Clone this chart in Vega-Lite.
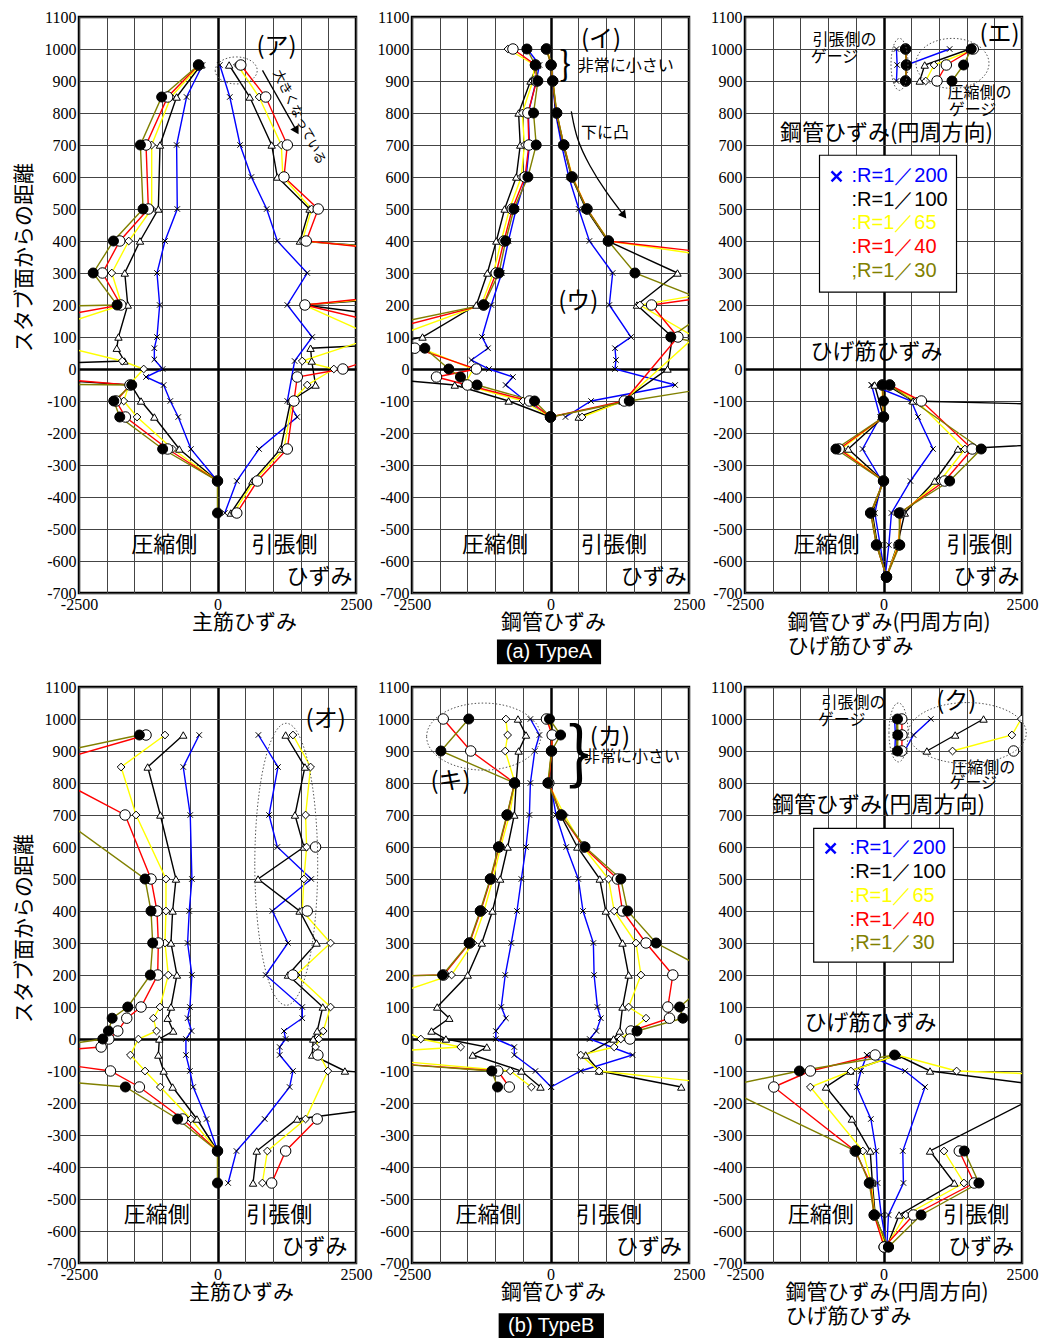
{
"$schema":"https://vega.github.io/schema/vega-lite/v6.json",
"padding":{"left":11,"top":7,"right":0,"bottom":0},
"background":"#ffffff",
"spacing":11,
"config":{
 "view":{"stroke":"#000000","strokeWidth":2.5},
 "axis":{"domain":false,"ticks":false,"grid":true,"labelFont":"Liberation Serif","labelFontSize":16,"labelColor":"#000000","labelPadding":3,"labelFlush":false,"labelOverlap":false,"labelBound":false,"titleFont":"Noto Sans CJK JP","titleFontSize":21,"titleFontWeight":"normal","titleColor":"#000000"}
},
"datasets":{
"A1":[
{"s":200,"g":"L","y":950,"x":-270},{"s":200,"g":"L","y":850,"x":-558},{"s":200,"g":"L","y":700,"x":-738},{"s":200,"g":"L","y":500,"x":-726},{"s":200,"g":"L","y":400,"x":-948},{"s":200,"g":"L","y":300,"x":-1092},{"s":200,"g":"L","y":200,"x":-1044},{"s":200,"g":"L","y":100,"x":-1092},{"s":200,"g":"L","y":65,"x":-1140},{"s":200,"g":"L","y":30,"x":-1140},{"s":200,"g":"L","y":0,"x":-990},{"s":200,"g":"L","y":-25,"x":-1290},{"s":200,"g":"L","y":-50,"x":-972},{"s":200,"g":"L","y":-100,"x":-852},{"s":200,"g":"L","y":-150,"x":-708},{"s":200,"g":"L","y":-250,"x":-480},{"s":200,"g":"L","y":-350,"x":0},
{"s":200,"g":"R","y":950,"x":42},{"s":200,"g":"R","y":850,"x":222},{"s":200,"g":"R","y":700,"x":408},{"s":200,"g":"R","y":600,"x":612},{"s":200,"g":"R","y":500,"x":888},{"s":200,"g":"R","y":400,"x":1080},{"s":200,"g":"R","y":300,"x":1620},{"s":200,"g":"R","y":200,"x":1260},{"s":200,"g":"R","y":100,"x":1710},{"s":200,"g":"R","y":25,"x":1392},{"s":200,"g":"R","y":-100,"x":1260},{"s":200,"g":"R","y":-150,"x":1440},{"s":200,"g":"R","y":-250,"x":750},{"s":200,"g":"R","y":-350,"x":348},{"s":200,"g":"R","y":-450,"x":132},
{"s":100,"g":"L","y":950,"x":-300},{"s":100,"g":"L","y":850,"x":-738},{"s":100,"g":"L","y":700,"x":-1038},{"s":100,"g":"L","y":500,"x":-1068},{"s":100,"g":"L","y":400,"x":-1398},{"s":100,"g":"L","y":300,"x":-1674},{"s":100,"g":"L","y":200,"x":-1620},{"s":100,"g":"L","y":100,"x":-1788},{"s":100,"g":"L","y":65,"x":-1818},{"s":100,"g":"L","y":25,"x":-1680},{"s":100,"g":"L","y":0,"x":-6000},{"s":100,"g":"L","y":-50,"x":-1560},{"s":100,"g":"L","y":-100,"x":-1380},{"s":100,"g":"L","y":-150,"x":-1140},{"s":100,"g":"L","y":-250,"x":-690},{"s":100,"g":"L","y":-350,"x":0},
{"s":100,"g":"R","y":950,"x":210},{"s":100,"g":"R","y":850,"x":582},{"s":100,"g":"R","y":700,"x":978},{"s":100,"g":"R","y":600,"x":1080},{"s":100,"g":"R","y":500,"x":1662},{"s":100,"g":"R","y":400,"x":1488},{"s":100,"g":"R","y":300,"x":9000},{"s":100,"g":"R","y":200,"x":1560},{"s":100,"g":"R","y":100,"x":6000},{"s":100,"g":"R","y":65,"x":1680},{"s":100,"g":"R","y":25,"x":1700},{"s":100,"g":"R","y":-50,"x":1770},{"s":100,"g":"R","y":-100,"x":1320},{"s":100,"g":"R","y":-250,"x":1140},{"s":100,"g":"R","y":-350,"x":630},{"s":100,"g":"R","y":-450,"x":240},
{"s":65,"g":"L","y":950,"x":-320},{"s":65,"g":"L","y":850,"x":-840},{"s":65,"g":"L","y":700,"x":-1188},{"s":65,"g":"L","y":500,"x":-1188},{"s":65,"g":"L","y":400,"x":-1602},{"s":65,"g":"L","y":300,"x":-1908},{"s":65,"g":"L","y":200,"x":-1728},{"s":65,"g":"L","y":100,"x":-3500},{"s":65,"g":"L","y":25,"x":-1720},{"s":65,"g":"L","y":0,"x":-1332},{"s":65,"g":"L","y":-50,"x":-1600},{"s":65,"g":"L","y":-100,"x":-1692},{"s":65,"g":"L","y":-150,"x":-1452},{"s":65,"g":"L","y":-250,"x":-810},{"s":65,"g":"L","y":-350,"x":0},
{"s":65,"g":"R","y":950,"x":360},{"s":65,"g":"R","y":850,"x":750},{"s":65,"g":"R","y":700,"x":1152},{"s":65,"g":"R","y":600,"x":1180},{"s":65,"g":"R","y":500,"x":1698},{"s":65,"g":"R","y":400,"x":1530},{"s":65,"g":"R","y":300,"x":8000},{"s":65,"g":"R","y":200,"x":1560},{"s":65,"g":"R","y":100,"x":2850},{"s":65,"g":"R","y":25,"x":1530},{"s":65,"g":"R","y":0,"x":2100},{"s":65,"g":"R","y":-50,"x":1620},{"s":65,"g":"R","y":-100,"x":1350},{"s":65,"g":"R","y":-250,"x":1200},{"s":65,"g":"R","y":-350,"x":660},{"s":65,"g":"R","y":-450,"x":290},
{"s":40,"g":"L","y":950,"x":-342},{"s":40,"g":"L","y":850,"x":-900},{"s":40,"g":"L","y":700,"x":-1290},{"s":40,"g":"L","y":500,"x":-1248},{"s":40,"g":"L","y":400,"x":-1764},{"s":40,"g":"L","y":300,"x":-2076},{"s":40,"g":"L","y":200,"x":-1746},{"s":40,"g":"L","y":100,"x":-5000},{"s":40,"g":"L","y":0,"x":-5000},{"s":40,"g":"L","y":-50,"x":-1580},{"s":40,"g":"L","y":-100,"x":-1830},{"s":40,"g":"L","y":-150,"x":-1662},{"s":40,"g":"L","y":-250,"x":-900},{"s":40,"g":"L","y":-350,"x":0},
{"s":40,"g":"R","y":950,"x":420},{"s":40,"g":"R","y":850,"x":870},{"s":40,"g":"R","y":700,"x":1260},{"s":40,"g":"R","y":600,"x":1200},{"s":40,"g":"R","y":500,"x":1818},{"s":40,"g":"R","y":400,"x":1602},{"s":40,"g":"R","y":300,"x":7000},{"s":40,"g":"R","y":200,"x":1578},{"s":40,"g":"R","y":100,"x":4000},{"s":40,"g":"R","y":0,"x":2262},{"s":40,"g":"R","y":-25,"x":1440},{"s":40,"g":"R","y":-100,"x":1380},{"s":40,"g":"R","y":-250,"x":1260},{"s":40,"g":"R","y":-350,"x":720},{"s":40,"g":"R","y":-450,"x":348},
{"s":30,"g":"L","y":950,"x":-342},{"s":30,"g":"L","y":850,"x":-1008},{"s":30,"g":"L","y":700,"x":-1392},{"s":30,"g":"L","y":500,"x":-1344},{"s":30,"g":"L","y":400,"x":-1878},{"s":30,"g":"L","y":300,"x":-2244},{"s":30,"g":"L","y":200,"x":-1812},{"s":30,"g":"L","y":100,"x":-30000},{"s":30,"g":"L","y":0,"x":-30000},{"s":30,"g":"L","y":-50,"x":-1548},{"s":30,"g":"L","y":-100,"x":-1872},{"s":30,"g":"L","y":-150,"x":-1764},{"s":30,"g":"L","y":-250,"x":-990},{"s":30,"g":"L","y":-350,"x":0},{"s":30,"g":"L","y":-450,"x":0}
],
"A2":[
{"s":200,"g":"L","y":1000,"x":-420},{"s":200,"g":"L","y":950,"x":-198},{"s":200,"g":"L","y":900,"x":-260},{"s":200,"g":"L","y":800,"x":-400},{"s":200,"g":"L","y":700,"x":-380},{"s":200,"g":"L","y":600,"x":-440},{"s":200,"g":"L","y":500,"x":-620},{"s":200,"g":"L","y":400,"x":-760},{"s":200,"g":"L","y":300,"x":-880},{"s":200,"g":"L","y":200,"x":-1068},{"s":200,"g":"L","y":100,"x":-1236},{"s":200,"g":"L","y":65,"x":-1128},{"s":200,"g":"L","y":28,"x":-1428},{"s":200,"g":"L","y":0,"x":-1110},{"s":200,"g":"L","y":-25,"x":-678},{"s":200,"g":"L","y":-50,"x":-810},{"s":200,"g":"L","y":-100,"x":-450},{"s":200,"g":"L","y":-150,"x":0},
{"s":200,"g":"R","y":950,"x":30},{"s":200,"g":"R","y":900,"x":40},{"s":200,"g":"R","y":800,"x":90},{"s":200,"g":"R","y":700,"x":200},{"s":200,"g":"R","y":600,"x":330},{"s":200,"g":"R","y":500,"x":510},{"s":200,"g":"R","y":400,"x":702},{"s":200,"g":"R","y":300,"x":1122},{"s":200,"g":"R","y":200,"x":1062},{"s":200,"g":"R","y":100,"x":1452},{"s":200,"g":"R","y":65,"x":1164},{"s":200,"g":"R","y":28,"x":1182},{"s":200,"g":"R","y":0,"x":1164},{"s":200,"g":"R","y":-50,"x":2250},{"s":200,"g":"R","y":-100,"x":732},{"s":200,"g":"R","y":-150,"x":270},
{"s":100,"g":"L","y":950,"x":-240},{"s":100,"g":"L","y":900,"x":-360},{"s":100,"g":"L","y":800,"x":-576},{"s":100,"g":"L","y":700,"x":-546},{"s":100,"g":"L","y":600,"x":-618},{"s":100,"g":"L","y":500,"x":-828},{"s":100,"g":"L","y":400,"x":-978},{"s":100,"g":"L","y":300,"x":-1140},{"s":100,"g":"L","y":200,"x":-1338},{"s":100,"g":"L","y":100,"x":-2310},{"s":100,"g":"L","y":0,"x":-5000},{"s":100,"g":"L","y":-50,"x":-1728},{"s":100,"g":"L","y":-100,"x":-756},{"s":100,"g":"L","y":-150,"x":0},
{"s":100,"g":"R","y":950,"x":15},{"s":100,"g":"R","y":900,"x":40},{"s":100,"g":"R","y":800,"x":100},{"s":100,"g":"R","y":700,"x":230},{"s":100,"g":"R","y":600,"x":380},{"s":100,"g":"R","y":500,"x":640},{"s":100,"g":"R","y":400,"x":1030},{"s":100,"g":"R","y":300,"x":2292},{"s":100,"g":"R","y":200,"x":1560},{"s":100,"g":"R","y":100,"x":2200},{"s":100,"g":"R","y":0,"x":2112},{"s":100,"g":"R","y":-100,"x":1300},{"s":100,"g":"R","y":-150,"x":510},
{"s":65,"g":"L","y":1000,"x":-768},{"s":65,"g":"L","y":950,"x":-290},{"s":65,"g":"L","y":900,"x":-320},{"s":65,"g":"L","y":800,"x":-510},{"s":65,"g":"L","y":700,"x":-470},{"s":65,"g":"L","y":600,"x":-528},{"s":65,"g":"L","y":500,"x":-740},{"s":65,"g":"L","y":400,"x":-890},{"s":65,"g":"L","y":300,"x":-1030},{"s":65,"g":"L","y":200,"x":-1250},{"s":65,"g":"L","y":100,"x":-2832},{"s":65,"g":"L","y":0,"x":-1400},{"s":65,"g":"L","y":-50,"x":-1548},{"s":65,"g":"L","y":-100,"x":-498},{"s":65,"g":"L","y":-150,"x":0},
{"s":65,"g":"R","y":1000,"x":-60},{"s":65,"g":"R","y":950,"x":15},{"s":65,"g":"R","y":900,"x":45},{"s":65,"g":"R","y":800,"x":110},{"s":65,"g":"R","y":700,"x":240},{"s":65,"g":"R","y":600,"x":400},{"s":65,"g":"R","y":500,"x":660},{"s":65,"g":"R","y":400,"x":1050},{"s":65,"g":"R","y":300,"x":5000},{"s":65,"g":"R","y":200,"x":1614},{"s":65,"g":"R","y":100,"x":2600},{"s":65,"g":"R","y":-100,"x":1320},{"s":65,"g":"R","y":-150,"x":570},
{"s":40,"g":"L","y":1000,"x":-678},{"s":40,"g":"L","y":950,"x":-270},{"s":40,"g":"L","y":900,"x":-250},{"s":40,"g":"L","y":800,"x":-408},{"s":40,"g":"L","y":700,"x":-390},{"s":40,"g":"L","y":600,"x":-460},{"s":40,"g":"L","y":500,"x":-690},{"s":40,"g":"L","y":400,"x":-840},{"s":40,"g":"L","y":300,"x":-980},{"s":40,"g":"L","y":200,"x":-1210},{"s":40,"g":"L","y":100,"x":-3437},{"s":40,"g":"L","y":65,"x":-2448},{"s":40,"g":"L","y":0,"x":-1338},{"s":40,"g":"L","y":-25,"x":-2058},{"s":40,"g":"L","y":-50,"x":-1500},{"s":40,"g":"L","y":-100,"x":-378},{"s":40,"g":"L","y":-150,"x":0},
{"s":40,"g":"R","y":1000,"x":-70},{"s":40,"g":"R","y":950,"x":10},{"s":40,"g":"R","y":900,"x":40},{"s":40,"g":"R","y":800,"x":110},{"s":40,"g":"R","y":700,"x":240},{"s":40,"g":"R","y":600,"x":390},{"s":40,"g":"R","y":500,"x":660},{"s":40,"g":"R","y":400,"x":1044},{"s":40,"g":"R","y":300,"x":6000},{"s":40,"g":"R","y":200,"x":1824},{"s":40,"g":"R","y":100,"x":2300},{"s":40,"g":"R","y":-100,"x":1332},{"s":40,"g":"R","y":-150,"x":0},
{"s":30,"g":"L","y":1000,"x":-426},{"s":30,"g":"L","y":950,"x":-276},{"s":30,"g":"L","y":900,"x":-228},{"s":30,"g":"L","y":800,"x":-306},{"s":30,"g":"L","y":700,"x":-258},{"s":30,"g":"L","y":600,"x":-408},{"s":30,"g":"L","y":500,"x":-660},{"s":30,"g":"L","y":400,"x":-810},{"s":30,"g":"L","y":300,"x":-930},{"s":30,"g":"L","y":200,"x":-1206},{"s":30,"g":"L","y":100,"x":-4000},{"s":30,"g":"L","y":65,"x":-2268},{"s":30,"g":"L","y":0,"x":-1836},{"s":30,"g":"L","y":-25,"x":-1626},{"s":30,"g":"L","y":-50,"x":-1326},{"s":30,"g":"L","y":-100,"x":-288},{"s":30,"g":"L","y":-150,"x":0},
{"s":30,"g":"R","y":1000,"x":-78},{"s":30,"g":"R","y":950,"x":12},{"s":30,"g":"R","y":900,"x":42},{"s":30,"g":"R","y":800,"x":114},{"s":30,"g":"R","y":700,"x":240},{"s":30,"g":"R","y":600,"x":384},{"s":30,"g":"R","y":500,"x":654},{"s":30,"g":"R","y":400,"x":1044},{"s":30,"g":"R","y":300,"x":1524},{"s":30,"g":"R","y":200,"x":3000},{"s":30,"g":"R","y":100,"x":2172},{"s":30,"g":"R","y":0,"x":5000},{"s":30,"g":"R","y":-100,"x":1422},{"s":30,"g":"R","y":-150,"x":0}
],
"A3":[
{"s":200,"g":"T","y":1000,"x":234},{"s":200,"g":"T","y":950,"x":246},{"s":200,"g":"T","y":900,"x":234},
{"s":200,"g":"C","y":1000,"x":1194},{"s":200,"g":"C","y":950,"x":414},{"s":200,"g":"C","y":900,"x":400},
{"s":200,"g":"L","y":-50,"x":-216},{"s":200,"g":"L","y":-150,"x":-60},{"s":200,"g":"L","y":-250,"x":-378},{"s":200,"g":"L","y":-350,"x":-30},{"s":200,"g":"L","y":-450,"x":-156},{"s":200,"g":"L","y":-550,"x":-60},{"s":200,"g":"L","y":-650,"x":30},
{"s":200,"g":"R","y":-50,"x":-216},{"s":200,"g":"R","y":-100,"x":500},{"s":200,"g":"R","y":-150,"x":624},{"s":200,"g":"R","y":-250,"x":894},{"s":200,"g":"R","y":-350,"x":486},{"s":200,"g":"R","y":-450,"x":144},{"s":200,"g":"R","y":-550,"x":96},{"s":200,"g":"R","y":-650,"x":30},
{"s":100,"g":"T","y":1000,"x":400},{"s":100,"g":"T","y":950,"x":410},{"s":100,"g":"T","y":900,"x":400},
{"s":100,"g":"C","y":1000,"x":1560},{"s":100,"g":"C","y":950,"x":744},{"s":100,"g":"C","y":900,"x":654},
{"s":100,"g":"L","y":-50,"x":-160},{"s":100,"g":"L","y":-150,"x":0},{"s":100,"g":"L","y":-250,"x":-636},{"s":100,"g":"L","y":-350,"x":0},{"s":100,"g":"L","y":-450,"x":-200},{"s":100,"g":"L","y":-550,"x":-110},{"s":100,"g":"L","y":-650,"x":54},
{"s":100,"g":"R","y":-50,"x":60},{"s":100,"g":"R","y":-100,"x":534},{"s":100,"g":"R","y":-150,"x":12000},{"s":100,"g":"R","y":-250,"x":1344},{"s":100,"g":"R","y":-350,"x":924},{"s":100,"g":"R","y":-450,"x":384},{"s":100,"g":"R","y":-550,"x":250},{"s":100,"g":"R","y":-650,"x":54},
{"s":65,"g":"T","y":1000,"x":396},{"s":65,"g":"T","y":950,"x":414},{"s":65,"g":"T","y":900,"x":396},
{"s":65,"g":"C","y":1000,"x":1650},{"s":65,"g":"C","y":950,"x":912},{"s":65,"g":"C","y":900,"x":762},
{"s":65,"g":"L","y":-50,"x":-30},{"s":65,"g":"L","y":-150,"x":0},{"s":65,"g":"L","y":-250,"x":-760},{"s":65,"g":"L","y":-350,"x":0},{"s":65,"g":"L","y":-450,"x":-220},{"s":65,"g":"L","y":-550,"x":-120},{"s":65,"g":"L","y":-650,"x":54},
{"s":65,"g":"R","y":-50,"x":100},{"s":65,"g":"R","y":-100,"x":600},{"s":65,"g":"R","y":-250,"x":1470},{"s":65,"g":"R","y":-350,"x":1020},{"s":65,"g":"R","y":-450,"x":320},{"s":65,"g":"R","y":-550,"x":260},{"s":65,"g":"R","y":-650,"x":54},
{"s":40,"g":"T","y":1000,"x":400},{"s":40,"g":"T","y":950,"x":414},{"s":40,"g":"T","y":900,"x":400},
{"s":40,"g":"C","y":1000,"x":1620},{"s":40,"g":"C","y":950,"x":1134},{"s":40,"g":"C","y":900,"x":966},
{"s":40,"g":"L","y":-50,"x":-20},{"s":40,"g":"L","y":-150,"x":0},{"s":40,"g":"L","y":-250,"x":-800},{"s":40,"g":"L","y":-350,"x":0},{"s":40,"g":"L","y":-450,"x":-230},{"s":40,"g":"L","y":-550,"x":-126},{"s":40,"g":"L","y":-650,"x":54},
{"s":40,"g":"R","y":-50,"x":110},{"s":40,"g":"R","y":-100,"x":684},{"s":40,"g":"R","y":-250,"x":1602},{"s":40,"g":"R","y":-350,"x":1104},{"s":40,"g":"R","y":-450,"x":300},{"s":40,"g":"R","y":-550,"x":280},{"s":40,"g":"R","y":-650,"x":54},
{"s":30,"g":"T","y":1000,"x":396},{"s":30,"g":"T","y":950,"x":414},{"s":30,"g":"T","y":900,"x":396},
{"s":30,"g":"C","y":1000,"x":1584},{"s":30,"g":"C","y":950,"x":1446},{"s":30,"g":"C","y":900,"x":1236},
{"s":30,"g":"L","y":-50,"x":-18},{"s":30,"g":"L","y":-100,"x":0},{"s":30,"g":"L","y":-150,"x":0},{"s":30,"g":"L","y":-250,"x":-858},{"s":30,"g":"L","y":-350,"x":0},{"s":30,"g":"L","y":-450,"x":-234},{"s":30,"g":"L","y":-550,"x":-126},{"s":30,"g":"L","y":-650,"x":54},
{"s":30,"g":"R","y":-50,"x":114},{"s":30,"g":"R","y":-250,"x":1764},{"s":30,"g":"R","y":-350,"x":1194},{"s":30,"g":"R","y":-450,"x":282},{"s":30,"g":"R","y":-550,"x":294},{"s":30,"g":"R","y":-650,"x":54}
],
"B1":[
{"s":200,"g":"L","y":950,"x":-330},{"s":200,"g":"L","y":850,"x":-618},{"s":200,"g":"L","y":700,"x":-492},{"s":200,"g":"L","y":500,"x":-462},{"s":200,"g":"L","y":400,"x":-510},{"s":200,"g":"L","y":300,"x":-540},{"s":200,"g":"L","y":200,"x":-462},{"s":200,"g":"L","y":100,"x":-498},{"s":200,"g":"L","y":65,"x":-540},{"s":200,"g":"L","y":25,"x":-468},{"s":200,"g":"L","y":0,"x":-570},{"s":200,"g":"L","y":-50,"x":-570},{"s":200,"g":"L","y":-100,"x":-498},{"s":200,"g":"L","y":-150,"x":-438},{"s":200,"g":"L","y":-250,"x":-198},{"s":200,"g":"L","y":-350,"x":0},
{"s":200,"g":"R","y":950,"x":738},{"s":200,"g":"R","y":850,"x":1092},{"s":200,"g":"R","y":700,"x":930},{"s":200,"g":"R","y":600,"x":1080},{"s":200,"g":"R","y":500,"x":1692},{"s":200,"g":"R","y":400,"x":990},{"s":200,"g":"R","y":300,"x":1272},{"s":200,"g":"R","y":200,"x":870},{"s":200,"g":"R","y":100,"x":1530},{"s":200,"g":"R","y":65,"x":1530},{"s":200,"g":"R","y":25,"x":1200},{"s":200,"g":"R","y":0,"x":1230},{"s":200,"g":"R","y":-25,"x":1122},{"s":200,"g":"R","y":-50,"x":1122},{"s":200,"g":"R","y":-100,"x":1362},{"s":200,"g":"R","y":-150,"x":1302},{"s":200,"g":"R","y":-250,"x":852},{"s":200,"g":"R","y":-350,"x":342},{"s":200,"g":"R","y":-450,"x":192},
{"s":100,"g":"L","y":950,"x":-618},{"s":100,"g":"L","y":850,"x":-1260},{"s":100,"g":"L","y":700,"x":-1032},{"s":100,"g":"L","y":500,"x":-750},{"s":100,"g":"L","y":400,"x":-810},{"s":100,"g":"L","y":300,"x":-840},{"s":100,"g":"L","y":200,"x":-732},{"s":100,"g":"L","y":100,"x":-840},{"s":100,"g":"L","y":65,"x":-900},{"s":100,"g":"L","y":25,"x":-800},{"s":100,"g":"L","y":0,"x":-1050},{"s":100,"g":"L","y":-50,"x":-1068},{"s":100,"g":"L","y":-100,"x":-972},{"s":100,"g":"L","y":-150,"x":-810},{"s":100,"g":"L","y":-250,"x":-372},{"s":100,"g":"L","y":-350,"x":0},
{"s":100,"g":"R","y":950,"x":1230},{"s":100,"g":"R","y":850,"x":1578},{"s":100,"g":"R","y":700,"x":1398},{"s":100,"g":"R","y":600,"x":1560},{"s":100,"g":"R","y":500,"x":732},{"s":100,"g":"R","y":400,"x":1482},{"s":100,"g":"R","y":300,"x":1788},{"s":100,"g":"R","y":200,"x":1272},{"s":100,"g":"R","y":100,"x":1900},{"s":100,"g":"R","y":25,"x":1800},{"s":100,"g":"R","y":0,"x":1728},{"s":100,"g":"R","y":-50,"x":1710},{"s":100,"g":"R","y":-100,"x":2300},{"s":100,"g":"R","y":-150,"x":6000},{"s":100,"g":"R","y":-250,"x":1440},{"s":100,"g":"R","y":-350,"x":708},{"s":100,"g":"R","y":-450,"x":642},
{"s":65,"g":"L","y":950,"x":-948},{"s":65,"g":"L","y":850,"x":-1740},{"s":65,"g":"L","y":700,"x":-1470},{"s":65,"g":"L","y":500,"x":-930},{"s":65,"g":"L","y":400,"x":-930},{"s":65,"g":"L","y":300,"x":-948},{"s":65,"g":"L","y":200,"x":-888},{"s":65,"g":"L","y":100,"x":-1038},{"s":65,"g":"L","y":65,"x":-1158},{"s":65,"g":"L","y":25,"x":-1100},{"s":65,"g":"L","y":0,"x":-1428},{"s":65,"g":"L","y":-50,"x":-1572},{"s":65,"g":"L","y":-100,"x":-1308},{"s":65,"g":"L","y":-150,"x":-1032},{"s":65,"g":"L","y":-250,"x":-480},{"s":65,"g":"L","y":-350,"x":0},
{"s":65,"g":"R","y":950,"x":1362},{"s":65,"g":"R","y":850,"x":1680},{"s":65,"g":"R","y":700,"x":1590},{"s":65,"g":"R","y":600,"x":1608},{"s":65,"g":"R","y":500,"x":1560},{"s":65,"g":"R","y":400,"x":1530},{"s":65,"g":"R","y":300,"x":2040},{"s":65,"g":"R","y":200,"x":1420},{"s":65,"g":"R","y":100,"x":2040},{"s":65,"g":"R","y":25,"x":1908},{"s":65,"g":"R","y":0,"x":1830},{"s":65,"g":"R","y":-25,"x":1770},{"s":65,"g":"R","y":-100,"x":1992},{"s":65,"g":"R","y":-250,"x":1590},{"s":65,"g":"R","y":-350,"x":900},{"s":65,"g":"R","y":-450,"x":810},
{"s":40,"g":"L","y":950,"x":-1290},{"s":40,"g":"L","y":850,"x":-3307},{"s":40,"g":"L","y":700,"x":-1668},{"s":40,"g":"L","y":500,"x":-1200},{"s":40,"g":"L","y":400,"x":-1092},{"s":40,"g":"L","y":300,"x":-1068},{"s":40,"g":"L","y":200,"x":-1080},{"s":40,"g":"L","y":100,"x":-1380},{"s":40,"g":"L","y":65,"x":-1638},{"s":40,"g":"L","y":25,"x":-1800},{"s":40,"g":"L","y":0,"x":-1962},{"s":40,"g":"L","y":-25,"x":-2100},{"s":40,"g":"L","y":-50,"x":-4000},{"s":40,"g":"L","y":-100,"x":-1932},{"s":40,"g":"L","y":-150,"x":-1410},{"s":40,"g":"L","y":-250,"x":-630},{"s":40,"g":"L","y":-350,"x":0},
{"s":40,"g":"R","y":-250,"x":1800},{"s":40,"g":"R","y":-350,"x":1230},{"s":40,"g":"R","y":-450,"x":978},
{"s":40,"g":"p1","y":600,"x":1770},{"s":40,"g":"p2","y":400,"x":1620},{"s":40,"g":"p3","y":200,"x":1362},{"s":40,"g":"p4","y":-50,"x":1812},
{"s":30,"g":"L","y":950,"x":-1410},{"s":30,"g":"L","y":850,"x":-4135},{"s":30,"g":"L","y":700,"x":-2900},{"s":30,"g":"L","y":500,"x":-1308},{"s":30,"g":"L","y":400,"x":-1200},{"s":30,"g":"L","y":300,"x":-1170},{"s":30,"g":"L","y":200,"x":-1212},{"s":30,"g":"L","y":100,"x":-1620},{"s":30,"g":"L","y":65,"x":-1902},{"s":30,"g":"L","y":25,"x":-1968},{"s":30,"g":"L","y":0,"x":-2070},{"s":30,"g":"L","y":-50,"x":-4000},{"s":30,"g":"L","y":-100,"x":-5000},{"s":30,"g":"L","y":-150,"x":-1662},{"s":30,"g":"L","y":-250,"x":-720},{"s":30,"g":"L","y":-350,"x":0},{"s":30,"g":"L","y":-450,"x":0}
],
"B2":[
{"s":200,"g":"L","y":1000,"x":-363},{"s":200,"g":"L","y":950,"x":-200},{"s":200,"g":"L","y":900,"x":-284},{"s":200,"g":"L","y":800,"x":-363},{"s":200,"g":"L","y":700,"x":-381},{"s":200,"g":"L","y":600,"x":-442},{"s":200,"g":"L","y":500,"x":-526},{"s":200,"g":"L","y":400,"x":-605},{"s":200,"g":"L","y":300,"x":-708},{"s":200,"g":"L","y":200,"x":-817},{"s":200,"g":"L","y":100,"x":-889},{"s":200,"g":"L","y":65,"x":-805},{"s":200,"g":"L","y":25,"x":-986},{"s":200,"g":"L","y":0,"x":-986},{"s":200,"g":"L","y":-25,"x":-653},{"s":200,"g":"L","y":-50,"x":-653},{"s":200,"g":"L","y":-100,"x":-272},{"s":200,"g":"L","y":-150,"x":12},
{"s":200,"g":"R","y":800,"x":0},{"s":200,"g":"R","y":700,"x":100},{"s":200,"g":"R","y":600,"x":284},{"s":200,"g":"R","y":500,"x":502},{"s":200,"g":"R","y":400,"x":587},{"s":200,"g":"R","y":300,"x":774},{"s":200,"g":"R","y":200,"x":787},{"s":200,"g":"R","y":100,"x":847},{"s":200,"g":"R","y":65,"x":908},{"s":200,"g":"R","y":25,"x":829},{"s":200,"g":"R","y":0,"x":708},{"s":200,"g":"R","y":-50,"x":1482},{"s":200,"g":"R","y":-100,"x":545},{"s":200,"g":"R","y":-150,"x":12},
{"s":100,"g":"L","y":1000,"x":-587},{"s":100,"g":"L","y":950,"x":-442},{"s":100,"g":"L","y":900,"x":-575},{"s":100,"g":"L","y":800,"x":-620},{"s":100,"g":"L","y":700,"x":-653},{"s":100,"g":"L","y":600,"x":-774},{"s":100,"g":"L","y":500,"x":-908},{"s":100,"g":"L","y":400,"x":-1047},{"s":100,"g":"L","y":300,"x":-1240},{"s":100,"g":"L","y":200,"x":-1494},{"s":100,"g":"L","y":100,"x":-2045},{"s":100,"g":"L","y":65,"x":-1827},{"s":100,"g":"L","y":25,"x":-2148},{"s":100,"g":"L","y":0,"x":-1888},{"s":100,"g":"L","y":-25,"x":-1150},{"s":100,"g":"L","y":-50,"x":-1404},{"s":100,"g":"L","y":-100,"x":-526},{"s":100,"g":"L","y":-150,"x":-181},
{"s":100,"g":"R","y":1000,"x":-20},{"s":100,"g":"R","y":950,"x":20},{"s":100,"g":"R","y":900,"x":20},{"s":100,"g":"R","y":800,"x":-30},{"s":100,"g":"R","y":700,"x":180},{"s":100,"g":"R","y":600,"x":484},{"s":100,"g":"R","y":500,"x":889},{"s":100,"g":"R","y":400,"x":998},{"s":100,"g":"R","y":300,"x":1300},{"s":100,"g":"R","y":200,"x":1410},{"s":100,"g":"R","y":100,"x":1300},{"s":100,"g":"R","y":25,"x":1250},{"s":100,"g":"R","y":0,"x":1137},{"s":100,"g":"R","y":-50,"x":635},{"s":100,"g":"R","y":-100,"x":877},{"s":100,"g":"R","y":-150,"x":2360},
{"s":65,"g":"L","y":1000,"x":-805},{"s":65,"g":"L","y":950,"x":-774},{"s":65,"g":"L","y":900,"x":-817},{"s":65,"g":"L","y":800,"x":-640},{"s":65,"g":"L","y":700,"x":-740},{"s":65,"g":"L","y":600,"x":-900},{"s":65,"g":"L","y":500,"x":-1040},{"s":65,"g":"L","y":400,"x":-1200},{"s":65,"g":"L","y":300,"x":-1400},{"s":65,"g":"L","y":200,"x":-1785},{"s":65,"g":"L","y":100,"x":-3500},{"s":65,"g":"L","y":0,"x":-2341},{"s":65,"g":"L","y":-25,"x":-1621},{"s":65,"g":"L","y":-50,"x":-4000},{"s":65,"g":"L","y":-100,"x":-726},{"s":65,"g":"L","y":-150,"x":-345},
{"s":65,"g":"R","y":1000,"x":-40},{"s":65,"g":"R","y":950,"x":25},{"s":65,"g":"R","y":900,"x":20},{"s":65,"g":"R","y":800,"x":-40},{"s":65,"g":"R","y":700,"x":250},{"s":65,"g":"R","y":600,"x":590},{"s":65,"g":"R","y":500,"x":1047},{"s":65,"g":"R","y":400,"x":1150},{"s":65,"g":"R","y":300,"x":1543},{"s":65,"g":"R","y":200,"x":1633},{"s":65,"g":"R","y":100,"x":1410},{"s":65,"g":"R","y":65,"x":1724},{"s":65,"g":"R","y":0,"x":1270},{"s":65,"g":"R","y":-25,"x":1150},{"s":65,"g":"R","y":-50,"x":545},{"s":65,"g":"R","y":-100,"x":877},{"s":65,"g":"R","y":-150,"x":3582},
{"s":40,"g":"L","y":1000,"x":-1936},{"s":40,"g":"L","y":900,"x":-1440},{"s":40,"g":"L","y":800,"x":-650},{"s":40,"g":"L","y":700,"x":-780},{"s":40,"g":"L","y":600,"x":-930},{"s":40,"g":"L","y":500,"x":-1080},{"s":40,"g":"L","y":400,"x":-1260},{"s":40,"g":"L","y":300,"x":-1460},{"s":40,"g":"L","y":200,"x":-1930},{"s":40,"g":"L","y":100,"x":-30000},{"s":40,"g":"L","y":-50,"x":-5000},{"s":40,"g":"L","y":-100,"x":-950},{"s":40,"g":"L","y":-150,"x":-744},
{"s":40,"g":"R","y":1000,"x":-73},{"s":40,"g":"R","y":950,"x":30},{"s":40,"g":"R","y":900,"x":18},{"s":40,"g":"R","y":800,"x":-30},{"s":40,"g":"R","y":700,"x":194},{"s":40,"g":"R","y":600,"x":600},{"s":40,"g":"R","y":500,"x":1210},{"s":40,"g":"R","y":400,"x":1300},{"s":40,"g":"R","y":300,"x":1724},{"s":40,"g":"R","y":200,"x":2208},{"s":40,"g":"R","y":100,"x":2118},{"s":40,"g":"R","y":65,"x":2148},{"s":40,"g":"R","y":25,"x":1452},{"s":40,"g":"R","y":0,"x":1434},
{"s":30,"g":"L","y":1000,"x":-1476},{"s":30,"g":"L","y":900,"x":-1978},{"s":30,"g":"L","y":800,"x":-647},{"s":30,"g":"L","y":700,"x":-787},{"s":30,"g":"L","y":600,"x":-938},{"s":30,"g":"L","y":500,"x":-1089},{"s":30,"g":"L","y":400,"x":-1270},{"s":30,"g":"L","y":300,"x":-1470},{"s":30,"g":"L","y":200,"x":-1948},{"s":30,"g":"L","y":100,"x":-30000},{"s":30,"g":"L","y":-50,"x":-5000},{"s":30,"g":"L","y":-100,"x":-1059},{"s":30,"g":"L","y":-150,"x":-956},
{"s":30,"g":"R","y":1000,"x":-18},{"s":30,"g":"R","y":950,"x":182},{"s":30,"g":"R","y":900,"x":18},{"s":30,"g":"R","y":800,"x":-48},{"s":30,"g":"R","y":700,"x":194},{"s":30,"g":"R","y":600,"x":623},{"s":30,"g":"R","y":500,"x":1270},{"s":30,"g":"R","y":400,"x":1392},{"s":30,"g":"R","y":300,"x":1906},{"s":30,"g":"R","y":200,"x":3000},{"s":30,"g":"R","y":100,"x":2330},{"s":30,"g":"R","y":65,"x":2390},{"s":30,"g":"R","y":25,"x":1561}
],
"B3":[
{"s":200,"g":"T","y":1000,"x":200},{"s":200,"g":"T","y":950,"x":215},{"s":200,"g":"T","y":900,"x":205},
{"s":200,"g":"C","y":1000,"x":855},{"s":200,"g":"C","y":950,"x":542},{"s":200,"g":"C","y":900,"x":380},
{"s":200,"g":"L","y":-50,"x":-300},{"s":200,"g":"L","y":-100,"x":-408},{"s":200,"g":"L","y":-150,"x":-480},{"s":200,"g":"L","y":-250,"x":-228},{"s":200,"g":"L","y":-350,"x":-132},{"s":200,"g":"L","y":-450,"x":-108},{"s":200,"g":"L","y":-550,"x":-40},{"s":200,"g":"L","y":-650,"x":60},
{"s":200,"g":"R","y":-50,"x":-300},{"s":200,"g":"R","y":-100,"x":390},{"s":200,"g":"R","y":-150,"x":750},{"s":200,"g":"R","y":-350,"x":348},{"s":200,"g":"R","y":-450,"x":360},{"s":200,"g":"R","y":-550,"x":90},{"s":200,"g":"R","y":-650,"x":60},
{"s":100,"g":"T","y":1000,"x":240},{"s":100,"g":"T","y":950,"x":245},{"s":100,"g":"T","y":900,"x":240},
{"s":100,"g":"C","y":1000,"x":1806},{"s":100,"g":"C","y":950,"x":1294},{"s":100,"g":"C","y":900,"x":783},
{"s":100,"g":"L","y":-50,"x":240},{"s":100,"g":"L","y":-100,"x":-600},{"s":100,"g":"L","y":-150,"x":-1038},{"s":100,"g":"L","y":-250,"x":-570},{"s":100,"g":"L","y":-350,"x":-240},{"s":100,"g":"L","y":-450,"x":-200},{"s":100,"g":"L","y":-550,"x":-150},{"s":100,"g":"L","y":-650,"x":60},
{"s":100,"g":"R","y":-50,"x":240},{"s":100,"g":"R","y":-100,"x":840},{"s":100,"g":"R","y":-150,"x":3100},{"s":100,"g":"R","y":-350,"x":840},{"s":100,"g":"R","y":-450,"x":1278},{"s":100,"g":"R","y":-550,"x":282},{"s":100,"g":"R","y":-650,"x":60},
{"s":65,"g":"T","y":1000,"x":250},{"s":65,"g":"T","y":950,"x":255},{"s":65,"g":"T","y":900,"x":250},
{"s":65,"g":"C","y":1000,"x":2486},{"s":65,"g":"C","y":950,"x":2318},{"s":65,"g":"C","y":900,"x":1246},
{"s":65,"g":"L","y":-50,"x":240},{"s":65,"g":"L","y":-100,"x":-588},{"s":65,"g":"L","y":-150,"x":-1320},{"s":65,"g":"L","y":-350,"x":-372},{"s":65,"g":"L","y":-450,"x":-220},{"s":65,"g":"L","y":-550,"x":-160},{"s":65,"g":"L","y":-650,"x":40},
{"s":65,"g":"R","y":-50,"x":240},{"s":65,"g":"R","y":-100,"x":1320},{"s":65,"g":"R","y":-150,"x":9000},
{"s":65,"g":"S","y":-350,"x":1092},{"s":65,"g":"S","y":-450,"x":1452},{"s":65,"g":"S","y":-550,"x":402},{"s":65,"g":"S","y":-650,"x":40},
{"s":40,"g":"T","y":1000,"x":330},{"s":40,"g":"T","y":950,"x":335},{"s":40,"g":"T","y":900,"x":330},
{"s":40,"g":"C","y":900,"x":2348},
{"s":40,"g":"L","y":-50,"x":-150},{"s":40,"g":"L","y":-100,"x":-1320},{"s":40,"g":"L","y":-150,"x":-1980},{"s":40,"g":"L","y":-350,"x":-510},{"s":40,"g":"L","y":-450,"x":-240},{"s":40,"g":"L","y":-550,"x":-168},{"s":40,"g":"L","y":-650,"x":12},
{"s":40,"g":"R","y":-350,"x":1368},{"s":40,"g":"R","y":-450,"x":1638},{"s":40,"g":"R","y":-550,"x":540},{"s":40,"g":"R","y":-650,"x":12},
{"s":30,"g":"T","y":1000,"x":253},{"s":30,"g":"T","y":950,"x":258},{"s":30,"g":"T","y":900,"x":253},
{"s":30,"g":"L","y":-50,"x":200},{"s":30,"g":"L","y":-100,"x":-1518},{"s":30,"g":"L","y":-150,"x":-2921},{"s":30,"g":"L","y":-350,"x":-500},{"s":30,"g":"L","y":-450,"x":-258},{"s":30,"g":"L","y":-550,"x":-168},{"s":30,"g":"L","y":-650,"x":90},
{"s":30,"g":"R","y":-350,"x":1458},{"s":30,"g":"R","y":-450,"x":1722},{"s":30,"g":"R","y":-550,"x":678},{"s":30,"g":"R","y":-650,"x":90}
],
"ann":[
{"p":"A1","k":"lab","t":"(ア)","x":1065,"y":1005},
{"p":"A1","k":"side","t":"圧縮側","x":-960,"y":-551},
{"p":"A1","k":"side","t":"引張側","x":1209,"y":-551},
{"p":"A1","k":"side","t":"ひずみ","x":1841,"y":-651},
{"p":"A1","k":"rot","t":"大きくなっている","x":1475,"y":787},
{"p":"A1","k":"arr","x":812,"y":933},
{"p":"A1","k":"arr","x":1426,"y":745},
{"p":"A1","k":"head","x":1426,"y":745},
{"p":"A1","k":"e1","x":338,"y":933},
{"p":"A2","k":"lab","t":"(イ)","x":913,"y":1027},
{"p":"A2","k":"brace","t":"}","x":268,"y":946},
{"p":"A2","k":"note","t":"非常に小さい","x":1360,"y":946},
{"p":"A2","k":"note","t":"下に凸","x":985,"y":736},
{"p":"A2","k":"lab","t":"(ウ)","x":501,"y":208},
{"p":"A2","k":"side","t":"圧縮側","x":-1002,"y":-551},
{"p":"A2","k":"side","t":"引張側","x":1146,"y":-551},
{"p":"A2","k":"side","t":"ひずみ","x":1862,"y":-651},
{"p":"A2","k":"arr","x":376,"y":805},
{"p":"A2","k":"arr","x":465,"y":720},
{"p":"A2","k":"arr","x":698,"y":636},
{"p":"A2","k":"arr","x":1002,"y":552},
{"p":"A2","k":"arr","x":1325,"y":480},
{"p":"A2","k":"head","x":1325,"y":480},
{"p":"A2","k":"tbox","x":-967,"x2":913,"y":-845,"y2":-923},
{"p":"A2","k":"ttext","t":"(a) TypeA","x":-27,"y":-884},
{"p":"A3","k":"lab","t":"(エ)","x":2094,"y":1043},
{"p":"A3","k":"note","t":"引張側の","x":-704,"y":1027},
{"p":"A3","k":"note","t":"ゲージ","x":-884,"y":974},
{"p":"A3","k":"note","t":"圧縮側の","x":1733,"y":861},
{"p":"A3","k":"note","t":"ゲージ","x":1606,"y":808},
{"p":"A3","k":"side","t":"鋼管ひずみ(円周方向)","x":54,"y":737},
{"p":"A3","k":"side","t":"ひげ筋ひずみ","x":-126,"y":52},
{"p":"A3","k":"side","t":"圧縮側","x":-1029,"y":-551},
{"p":"A3","k":"side","t":"引張側","x":1733,"y":-551},
{"p":"A3","k":"side","t":"ひずみ","x":1859,"y":-651},
{"p":"A3","k":"e2","x":289,"y":952},
{"p":"A3","k":"e3","x":1245,"y":955},
{"p":"A3","k":"box","x":-1155,"x2":1318,"y":668,"y2":240},
{"p":"A3","k":"legx","x":-848,"y":602},
{"p":"A3","k":"leg","s":200,"t":":R=1／200","x":-578,"y":602},
{"p":"A3","k":"leg","s":100,"t":":R=1／100","x":-578,"y":527},
{"p":"A3","k":"leg","s":65,"t":":R=1／65","x":-578,"y":455},
{"p":"A3","k":"leg","s":40,"t":":R=1／40","x":-578,"y":380},
{"p":"A3","k":"leg","s":30,"t":";R=1／30","x":-578,"y":305},
{"p":"B1","k":"lab","t":"(オ)","x":1953,"y":996},
{"p":"B1","k":"side","t":"圧縮側","x":-1095,"y":-551},
{"p":"B1","k":"side","t":"引張側","x":1113,"y":-551},
{"p":"B1","k":"side","t":"ひずみ","x":1752,"y":-651},
{"p":"B1","k":"e4","x":1241,"y":546},
{"p":"B2","k":"lab","t":"(カ)","x":1073,"y":940},
{"p":"B2","k":"brace2","t":"}","x":512,"y":880},
{"p":"B2","k":"note","t":"非常に小さい","x":1473,"y":880},
{"p":"B2","k":"lab","t":"(キ)","x":-1805,"y":802},
{"p":"B2","k":"side","t":"圧縮側","x":-1117,"y":-551},
{"p":"B2","k":"side","t":"引張側","x":1055,"y":-551},
{"p":"B2","k":"side","t":"ひずみ","x":1779,"y":-651},
{"p":"B2","k":"e5","x":-1207,"y":945},
{"p":"B2","k":"tbox","x":-936,"x2":965,"y":-857,"y2":-935},
{"p":"B2","k":"ttext","t":"(b) TypeB","x":14,"y":-896},
{"p":"B3","k":"lab","t":"(ク)","x":1314,"y":1052},
{"p":"B3","k":"note","t":"引張側の","x":-540,"y":1049},
{"p":"B3","k":"note","t":"ゲージ","x":-756,"y":996},
{"p":"B3","k":"note","t":"圧縮側の","x":1800,"y":848},
{"p":"B3","k":"note","t":"ゲージ","x":1620,"y":799},
{"p":"B3","k":"side","t":"鋼管ひずみ(円周方向)","x":-90,"y":731},
{"p":"B3","k":"side","t":"ひげ筋ひずみ","x":-234,"y":49},
{"p":"B3","k":"side","t":"圧縮側","x":-1134,"y":-551},
{"p":"B3","k":"side","t":"引張側","x":1674,"y":-551},
{"p":"B3","k":"side","t":"ひずみ","x":1764,"y":-651},
{"p":"B3","k":"e6","x":270,"y":958},
{"p":"B3","k":"e7","x":1512,"y":956},
{"p":"B3","k":"box","x":-1260,"x2":1260,"y":658,"y2":240},
{"p":"B3","k":"legx","x":-954,"y":596},
{"p":"B3","k":"leg","s":200,"t":":R=1／200","x":-612,"y":596},
{"p":"B3","k":"leg","s":100,"t":":R=1／100","x":-612,"y":521},
{"p":"B3","k":"leg","s":65,"t":":R=1／65","x":-612,"y":446},
{"p":"B3","k":"leg","s":40,"t":":R=1／40","x":-612,"y":371},
{"p":"B3","k":"leg","s":30,"t":";R=1／30","x":-612,"y":299}
]
},
"vconcat":[
{"bounds":"flush","spacing":56,"hconcat":[
{"width":277,"height":576,"resolve":{"scale":{"size":"independent"}},
 "encoding":{
  "x":{"field":"x","type":"quantitative","scale":{"domain":[-2500,2500],"nice":false,"zero":false},"axis":{"values":[-2500,-2000,-1500,-1000,-500,0,500,1000,1500,2000,2500],"labelExpr":"datum.value % 2500 === 0 ? '' + datum.value : ''","title":"主筋ひずみ","titleX":165,"titleY":18,"titleBaseline":"top","titleAlign":"center","gridWidth":{"condition":{"test":"datum.value === 0","value":2.5},"value":1},"gridColor":{"condition":{"test":"datum.value === 0","value":"#000000"},"value":"#444444"}}},
  "y":{"field":"y","type":"quantitative","scale":{"domain":[-700,1100],"nice":false,"zero":false},"axis":{"values":[-700,-600,-500,-400,-300,-200,-100,0,100,200,300,400,500,600,700,800,900,1000,1100],"labelExpr":"'' + datum.value","title":"スタブ面からの距離","titleX":-55,"titleY":240,"titleBaseline":"middle","titleAlign":"center","titleAngle":-90,"gridWidth":{"condition":{"test":"datum.value === 0","value":2.5},"value":1},"gridColor":{"condition":{"test":"datum.value === 0","value":"#000000"},"value":"#444444"}}}
 },
 "layer":[
  {"data":{"name":"A1"},"mark":{"type":"line","clip":true,"strokeWidth":1.4},"encoding":{"color":{"field":"s","type":"nominal","scale":{"domain":[200,100,65,40,30],"range":["#0000ff","#000000","#ffff00","#ff0000","#808000"]},"legend":null},"detail":{"field":"g"},"order":{"field":"y","type":"quantitative"}}},
  {"data":{"name":"A1"},"mark":{"type":"point","clip":true,"stroke":"#000000","strokeWidth":1,"opacity":1},"encoding":{"shape":{"field":"s","type":"nominal","scale":{"domain":[200,100,65,40,30],"range":["M-1,-1L1,1M-1,1L1,-1","triangle-up","diamond","circle","circle"]},"legend":null},"fill":{"field":"s","type":"nominal","scale":{"domain":[200,100,65,40,30],"range":["#000000","#ffffff","#ffffff","#ffffff","#000000"]},"legend":null},"size":{"field":"s","type":"ordinal","scale":{"type":"ordinal","domain":[200,100,65,40,30],"range":[30,55,60,110,100]},"legend":null}}},
  {"data":{"name":"ann"},"transform":[{"filter":"datum.p==='A1' && indexof(['lab','side','note','brace','brace2'], datum.k) >= 0"}],"mark":{"type":"text","font":"Noto Sans CJK JP","color":"#000000"},"encoding":{"text":{"field":"t"},"size":{"field":"k","type":"ordinal","scale":{"type":"ordinal","domain":["lab","side","note","brace","brace2"],"range":[24,22,16,34,68]},"legend":null}}},
  {"data":{"name":"ann"},"transform":[{"filter":"datum.p==='A1' && datum.k==='rot'"}],"mark":{"type":"text","font":"Noto Sans CJK JP","fontSize":13,"angle":64,"color":"#000000"},"encoding":{"text":{"field":"t"}}},
  {"data":{"name":"ann"},"transform":[{"filter":"datum.p==='A1' && datum.k==='arr'"}],"mark":{"type":"line","color":"#000000","strokeWidth":1.3},"encoding":{"order":{"field":"x","type":"quantitative"}}},
  {"data":{"name":"ann"},"transform":[{"filter":"datum.p==='A1' && datum.k==='head'"}],"mark":{"type":"point","shape":"triangle-up","filled":true,"color":"#000000","size":90,"angle":150,"opacity":1}},
  {"data":{"name":"ann"},"transform":[{"filter":"datum.k==='e1'"}],"mark":{"type":"point","shape":"M-1,0A1,0.643 0 1,0 1,0A1,0.643 0 1,0 -1,0","size":1764,"filled":false,"stroke":"#555555","strokeWidth":1,"strokeDash":[1.5,2],"opacity":1}}
 ]},
{"width":277,"height":576,"resolve":{"scale":{"size":"independent"}},
 "encoding":{
  "x":{"field":"x","type":"quantitative","scale":{"domain":[-2500,2500],"nice":false,"zero":false},"axis":{"values":[-2500,-2000,-1500,-1000,-500,0,500,1000,1500,2000,2500],"labelExpr":"datum.value % 2500 === 0 ? '' + datum.value : ''","title":"鋼管ひずみ","titleX":141,"titleY":18,"titleBaseline":"top","titleAlign":"center","gridWidth":{"condition":{"test":"datum.value === 0","value":2.5},"value":1},"gridColor":{"condition":{"test":"datum.value === 0","value":"#000000"},"value":"#444444"}}},
  "y":{"field":"y","type":"quantitative","scale":{"domain":[-700,1100],"nice":false,"zero":false},"axis":{"values":[-700,-600,-500,-400,-300,-200,-100,0,100,200,300,400,500,600,700,800,900,1000,1100],"labelExpr":"'' + datum.value","title":null,"gridWidth":{"condition":{"test":"datum.value === 0","value":2.5},"value":1},"gridColor":{"condition":{"test":"datum.value === 0","value":"#000000"},"value":"#444444"}}}
 },
 "layer":[
  {"data":{"name":"A2"},"mark":{"type":"line","clip":true,"strokeWidth":1.4},"encoding":{"color":{"field":"s","type":"nominal","scale":{"domain":[200,100,65,40,30],"range":["#0000ff","#000000","#ffff00","#ff0000","#808000"]},"legend":null},"detail":{"field":"g"},"order":{"field":"y","type":"quantitative"}}},
  {"data":{"name":"A2"},"mark":{"type":"point","clip":true,"stroke":"#000000","strokeWidth":1,"opacity":1},"encoding":{"shape":{"field":"s","type":"nominal","scale":{"domain":[200,100,65,40,30],"range":["M-1,-1L1,1M-1,1L1,-1","triangle-up","diamond","circle","circle"]},"legend":null},"fill":{"field":"s","type":"nominal","scale":{"domain":[200,100,65,40,30],"range":["#000000","#ffffff","#ffffff","#ffffff","#000000"]},"legend":null},"size":{"field":"s","type":"ordinal","scale":{"type":"ordinal","domain":[200,100,65,40,30],"range":[30,55,60,110,100]},"legend":null}}},
  {"data":{"name":"ann"},"transform":[{"filter":"datum.p==='A2' && indexof(['lab','side','note','brace','brace2'], datum.k) >= 0"}],"mark":{"type":"text","font":"Noto Sans CJK JP","color":"#000000"},"encoding":{"text":{"field":"t"},"size":{"field":"k","type":"ordinal","scale":{"type":"ordinal","domain":["lab","side","note","brace","brace2"],"range":[24,22,16,34,68]},"legend":null}}},
  {"data":{"name":"ann"},"transform":[{"filter":"datum.p==='A2' && datum.k==='arr'"}],"mark":{"type":"line","color":"#000000","strokeWidth":1.3,"interpolate":"basis"},"encoding":{"order":{"field":"x","type":"quantitative"}}},
  {"data":{"name":"ann"},"transform":[{"filter":"datum.p==='A2' && datum.k==='head'"}],"mark":{"type":"point","shape":"triangle-up","filled":true,"color":"#000000","size":80,"angle":142,"opacity":1}},
  {"data":{"name":"ann"},"transform":[{"filter":"datum.p==='A2' && datum.k==='tbox'"}],"mark":{"type":"rect","fill":"#000000"},"encoding":{"x2":{"field":"x2"},"y2":{"field":"y2"}}},
  {"data":{"name":"ann"},"transform":[{"filter":"datum.p==='A2' && datum.k==='ttext'"}],"mark":{"type":"text","font":"Liberation Sans","fontSize":20,"color":"#ffffff"},"encoding":{"text":{"field":"t"}}}
 ]},
{"width":277,"height":576,"resolve":{"scale":{"size":"independent"}},
 "encoding":{
  "x":{"field":"x","type":"quantitative","scale":{"domain":[-2500,2500],"nice":false,"zero":false},"axis":{"values":[-2500,-2000,-1500,-1000,-500,0,500,1000,1500,2000,2500],"labelExpr":"datum.value % 2500 === 0 ? '' + datum.value : ''","title":["鋼管ひずみ(円周方向)","ひげ筋ひずみ"],"titleX":42,"titleY":18,"titleBaseline":"top","titleAlign":"left","titleLineHeight":24,"gridWidth":{"condition":{"test":"datum.value === 0","value":2.5},"value":1},"gridColor":{"condition":{"test":"datum.value === 0","value":"#000000"},"value":"#444444"}}},
  "y":{"field":"y","type":"quantitative","scale":{"domain":[-700,1100],"nice":false,"zero":false},"axis":{"values":[-700,-600,-500,-400,-300,-200,-100,0,100,200,300,400,500,600,700,800,900,1000,1100],"labelExpr":"'' + datum.value","title":null,"gridWidth":{"condition":{"test":"datum.value === 0","value":2.5},"value":1},"gridColor":{"condition":{"test":"datum.value === 0","value":"#000000"},"value":"#444444"}}}
 },
 "layer":[
  {"data":{"name":"A3"},"mark":{"type":"line","clip":true,"strokeWidth":1.4},"encoding":{"color":{"field":"s","type":"nominal","scale":{"domain":[200,100,65,40,30],"range":["#0000ff","#000000","#ffff00","#ff0000","#808000"]},"legend":null},"detail":{"field":"g"},"order":{"field":"y","type":"quantitative"}}},
  {"data":{"name":"A3"},"mark":{"type":"point","clip":true,"stroke":"#000000","strokeWidth":1,"opacity":1},"encoding":{"shape":{"field":"s","type":"nominal","scale":{"domain":[200,100,65,40,30],"range":["M-1,-1L1,1M-1,1L1,-1","triangle-up","diamond","circle","circle"]},"legend":null},"fill":{"field":"s","type":"nominal","scale":{"domain":[200,100,65,40,30],"range":["#000000","#ffffff","#ffffff","#ffffff","#000000"]},"legend":null},"size":{"field":"s","type":"ordinal","scale":{"type":"ordinal","domain":[200,100,65,40,30],"range":[30,55,60,110,100]},"legend":null}}},
  {"data":{"name":"ann"},"transform":[{"filter":"datum.p==='A3' && indexof(['lab','side','note','brace','brace2'], datum.k) >= 0"}],"mark":{"type":"text","font":"Noto Sans CJK JP","color":"#000000"},"encoding":{"text":{"field":"t"},"size":{"field":"k","type":"ordinal","scale":{"type":"ordinal","domain":["lab","side","note","brace","brace2"],"range":[24,22,16,34,68]},"legend":null}}},
  {"data":{"name":"ann"},"transform":[{"filter":"datum.k==='e2'"}],"mark":{"type":"point","shape":"M-0.327,0A0.327,1 0 1,0 0.327,0A0.327,1 0 1,0 -0.327,0","size":2704,"filled":false,"stroke":"#555555","strokeWidth":1,"strokeDash":[1.5,2],"opacity":1}},
  {"data":{"name":"ann"},"transform":[{"filter":"datum.k==='e3'"}],"mark":{"type":"point","shape":"M-1,0A1,0.685 0 1,0 1,0A1,0.685 0 1,0 -1,0","size":5329,"filled":false,"stroke":"#555555","strokeWidth":1,"strokeDash":[1.5,2],"opacity":1}},
  {"data":{"name":"ann"},"transform":[{"filter":"datum.p==='A3' && datum.k==='box'"}],"mark":{"type":"rect","fill":"#ffffff","stroke":"#000000","strokeWidth":1.2},"encoding":{"x2":{"field":"x2"},"y2":{"field":"y2"}}},
  {"data":{"name":"ann"},"transform":[{"filter":"datum.p==='A3' && datum.k==='leg'"}],"mark":{"type":"text","font":"Liberation Sans","fontSize":20,"align":"left"},"encoding":{"text":{"field":"t"},"color":{"field":"s","type":"nominal","scale":{"domain":[200,100,65,40,30],"range":["#0000ff","#000000","#ffff00","#ff0000","#808000"]},"legend":null}}},
  {"data":{"name":"ann"},"transform":[{"filter":"datum.p==='A3' && datum.k==='legx'"}],"mark":{"type":"point","shape":"M-1,-1L1,1M-1,1L1,-1","size":100,"stroke":"#0000ff","strokeWidth":2.5,"opacity":1}}
 ]}
]},
{"bounds":"flush","spacing":56,"hconcat":[
{"width":277,"height":576,"resolve":{"scale":{"size":"independent"}},
 "encoding":{
  "x":{"field":"x","type":"quantitative","scale":{"domain":[-2500,2500],"nice":false,"zero":false},"axis":{"values":[-2500,-2000,-1500,-1000,-500,0,500,1000,1500,2000,2500],"labelExpr":"datum.value % 2500 === 0 ? '' + datum.value : ''","title":"主筋ひずみ","titleX":162,"titleY":18,"titleBaseline":"top","titleAlign":"center","gridWidth":{"condition":{"test":"datum.value === 0","value":2.5},"value":1},"gridColor":{"condition":{"test":"datum.value === 0","value":"#000000"},"value":"#444444"}}},
  "y":{"field":"y","type":"quantitative","scale":{"domain":[-700,1100],"nice":false,"zero":false},"axis":{"values":[-700,-600,-500,-400,-300,-200,-100,0,100,200,300,400,500,600,700,800,900,1000,1100],"labelExpr":"'' + datum.value","title":"スタブ面からの距離","titleX":-55,"titleY":241,"titleBaseline":"middle","titleAlign":"center","titleAngle":-90,"gridWidth":{"condition":{"test":"datum.value === 0","value":2.5},"value":1},"gridColor":{"condition":{"test":"datum.value === 0","value":"#000000"},"value":"#444444"}}}
 },
 "layer":[
  {"data":{"name":"B1"},"mark":{"type":"line","clip":true,"strokeWidth":1.4},"encoding":{"color":{"field":"s","type":"nominal","scale":{"domain":[200,100,65,40,30],"range":["#0000ff","#000000","#ffff00","#ff0000","#808000"]},"legend":null},"detail":{"field":"g"},"order":{"field":"y","type":"quantitative"}}},
  {"data":{"name":"B1"},"mark":{"type":"point","clip":true,"stroke":"#000000","strokeWidth":1,"opacity":1},"encoding":{"shape":{"field":"s","type":"nominal","scale":{"domain":[200,100,65,40,30],"range":["M-1,-1L1,1M-1,1L1,-1","triangle-up","diamond","circle","circle"]},"legend":null},"fill":{"field":"s","type":"nominal","scale":{"domain":[200,100,65,40,30],"range":["#000000","#ffffff","#ffffff","#ffffff","#000000"]},"legend":null},"size":{"field":"s","type":"ordinal","scale":{"type":"ordinal","domain":[200,100,65,40,30],"range":[30,55,60,110,100]},"legend":null}}},
  {"data":{"name":"ann"},"transform":[{"filter":"datum.p==='B1' && indexof(['lab','side','note','brace','brace2'], datum.k) >= 0"}],"mark":{"type":"text","font":"Noto Sans CJK JP","color":"#000000"},"encoding":{"text":{"field":"t"},"size":{"field":"k","type":"ordinal","scale":{"type":"ordinal","domain":["lab","side","note","brace","brace2"],"range":[24,22,16,34,68]},"legend":null}}},
  {"data":{"name":"ann"},"transform":[{"filter":"datum.k==='e4'"}],"mark":{"type":"point","shape":"M-0.223,0A0.223,1 0 1,0 0.223,0A0.223,1 0 1,0 -0.223,0","size":79524,"filled":false,"stroke":"#555555","strokeWidth":1,"strokeDash":[1.5,2],"opacity":1}}
 ]},
{"width":277,"height":576,"resolve":{"scale":{"size":"independent"}},
 "encoding":{
  "x":{"field":"x","type":"quantitative","scale":{"domain":[-2500,2500],"nice":false,"zero":false},"axis":{"values":[-2500,-2000,-1500,-1000,-500,0,500,1000,1500,2000,2500],"labelExpr":"datum.value % 2500 === 0 ? '' + datum.value : ''","title":"鋼管ひずみ","titleX":141,"titleY":18,"titleBaseline":"top","titleAlign":"center","gridWidth":{"condition":{"test":"datum.value === 0","value":2.5},"value":1},"gridColor":{"condition":{"test":"datum.value === 0","value":"#000000"},"value":"#444444"}}},
  "y":{"field":"y","type":"quantitative","scale":{"domain":[-700,1100],"nice":false,"zero":false},"axis":{"values":[-700,-600,-500,-400,-300,-200,-100,0,100,200,300,400,500,600,700,800,900,1000,1100],"labelExpr":"'' + datum.value","title":null,"gridWidth":{"condition":{"test":"datum.value === 0","value":2.5},"value":1},"gridColor":{"condition":{"test":"datum.value === 0","value":"#000000"},"value":"#444444"}}}
 },
 "layer":[
  {"data":{"name":"B2"},"mark":{"type":"line","clip":true,"strokeWidth":1.4},"encoding":{"color":{"field":"s","type":"nominal","scale":{"domain":[200,100,65,40,30],"range":["#0000ff","#000000","#ffff00","#ff0000","#808000"]},"legend":null},"detail":{"field":"g"},"order":{"field":"y","type":"quantitative"}}},
  {"data":{"name":"B2"},"mark":{"type":"point","clip":true,"stroke":"#000000","strokeWidth":1,"opacity":1},"encoding":{"shape":{"field":"s","type":"nominal","scale":{"domain":[200,100,65,40,30],"range":["M-1,-1L1,1M-1,1L1,-1","triangle-up","diamond","circle","circle"]},"legend":null},"fill":{"field":"s","type":"nominal","scale":{"domain":[200,100,65,40,30],"range":["#000000","#ffffff","#ffffff","#ffffff","#000000"]},"legend":null},"size":{"field":"s","type":"ordinal","scale":{"type":"ordinal","domain":[200,100,65,40,30],"range":[30,55,60,110,100]},"legend":null}}},
  {"data":{"name":"ann"},"transform":[{"filter":"datum.p==='B2' && indexof(['lab','side','note','brace','brace2'], datum.k) >= 0"}],"mark":{"type":"text","font":"Noto Sans CJK JP","color":"#000000"},"encoding":{"text":{"field":"t"},"size":{"field":"k","type":"ordinal","scale":{"type":"ordinal","domain":["lab","side","note","brace","brace2"],"range":[24,22,16,34,68]},"legend":null}}},
  {"data":{"name":"ann"},"transform":[{"filter":"datum.k==='e5'"}],"mark":{"type":"point","shape":"M-1,0A1,0.588 0 1,0 1,0A1,0.588 0 1,0 -1,0","size":12996,"filled":false,"stroke":"#555555","strokeWidth":1,"strokeDash":[1.5,2],"opacity":1}},
  {"data":{"name":"ann"},"transform":[{"filter":"datum.p==='B2' && datum.k==='tbox'"}],"mark":{"type":"rect","fill":"#000000"},"encoding":{"x2":{"field":"x2"},"y2":{"field":"y2"}}},
  {"data":{"name":"ann"},"transform":[{"filter":"datum.p==='B2' && datum.k==='ttext'"}],"mark":{"type":"text","font":"Liberation Sans","fontSize":20,"color":"#ffffff"},"encoding":{"text":{"field":"t"}}}
 ]},
{"width":277,"height":576,"resolve":{"scale":{"size":"independent"}},
 "encoding":{
  "x":{"field":"x","type":"quantitative","scale":{"domain":[-2500,2500],"nice":false,"zero":false},"axis":{"values":[-2500,-2000,-1500,-1000,-500,0,500,1000,1500,2000,2500],"labelExpr":"datum.value % 2500 === 0 ? '' + datum.value : ''","title":["鋼管ひずみ(円周方向)","ひげ筋ひずみ"],"titleX":40,"titleY":18,"titleBaseline":"top","titleAlign":"left","titleLineHeight":24,"gridWidth":{"condition":{"test":"datum.value === 0","value":2.5},"value":1},"gridColor":{"condition":{"test":"datum.value === 0","value":"#000000"},"value":"#444444"}}},
  "y":{"field":"y","type":"quantitative","scale":{"domain":[-700,1100],"nice":false,"zero":false},"axis":{"values":[-700,-600,-500,-400,-300,-200,-100,0,100,200,300,400,500,600,700,800,900,1000,1100],"labelExpr":"'' + datum.value","title":null,"gridWidth":{"condition":{"test":"datum.value === 0","value":2.5},"value":1},"gridColor":{"condition":{"test":"datum.value === 0","value":"#000000"},"value":"#444444"}}}
 },
 "layer":[
  {"data":{"name":"B3"},"mark":{"type":"line","clip":true,"strokeWidth":1.4},"encoding":{"color":{"field":"s","type":"nominal","scale":{"domain":[200,100,65,40,30],"range":["#0000ff","#000000","#ffff00","#ff0000","#808000"]},"legend":null},"detail":{"field":"g"},"order":{"field":"y","type":"quantitative"}}},
  {"data":{"name":"B3"},"mark":{"type":"point","clip":true,"stroke":"#000000","strokeWidth":1,"opacity":1},"encoding":{"shape":{"field":"s","type":"nominal","scale":{"domain":[200,100,65,40,30],"range":["M-1,-1L1,1M-1,1L1,-1","triangle-up","diamond","circle","circle"]},"legend":null},"fill":{"field":"s","type":"nominal","scale":{"domain":[200,100,65,40,30],"range":["#000000","#ffffff","#ffffff","#ffffff","#000000"]},"legend":null},"size":{"field":"s","type":"ordinal","scale":{"type":"ordinal","domain":[200,100,65,40,30],"range":[30,55,60,110,100]},"legend":null}}},
  {"data":{"name":"ann"},"transform":[{"filter":"datum.p==='B3' && indexof(['lab','side','note','brace','brace2'], datum.k) >= 0"}],"mark":{"type":"text","font":"Noto Sans CJK JP","color":"#000000"},"encoding":{"text":{"field":"t"},"size":{"field":"k","type":"ordinal","scale":{"type":"ordinal","domain":["lab","side","note","brace","brace2"],"range":[24,22,16,34,68]},"legend":null}}},
  {"data":{"name":"ann"},"transform":[{"filter":"datum.k==='e6'"}],"mark":{"type":"point","shape":"M-0.322,0A0.322,1 0 1,0 0.322,0A0.322,1 0 1,0 -0.322,0","size":3481,"filled":false,"stroke":"#555555","strokeWidth":1,"strokeDash":[1.5,2],"opacity":1}},
  {"data":{"name":"ann"},"transform":[{"filter":"datum.k==='e7'"}],"mark":{"type":"point","shape":"M-1,0A1,0.517 0 1,0 1,0A1,0.517 0 1,0 -1,0","size":13924,"filled":false,"stroke":"#555555","strokeWidth":1,"strokeDash":[1.5,2],"opacity":1}},
  {"data":{"name":"ann"},"transform":[{"filter":"datum.p==='B3' && datum.k==='box'"}],"mark":{"type":"rect","fill":"#ffffff","stroke":"#000000","strokeWidth":1.2},"encoding":{"x2":{"field":"x2"},"y2":{"field":"y2"}}},
  {"data":{"name":"ann"},"transform":[{"filter":"datum.p==='B3' && datum.k==='leg'"}],"mark":{"type":"text","font":"Liberation Sans","fontSize":20,"align":"left"},"encoding":{"text":{"field":"t"},"color":{"field":"s","type":"nominal","scale":{"domain":[200,100,65,40,30],"range":["#0000ff","#000000","#ffff00","#ff0000","#808000"]},"legend":null}}},
  {"data":{"name":"ann"},"transform":[{"filter":"datum.p==='B3' && datum.k==='legx'"}],"mark":{"type":"point","shape":"M-1,-1L1,1M-1,1L1,-1","size":100,"stroke":"#0000ff","strokeWidth":2.5,"opacity":1}}
 ]}
]}
]
}
